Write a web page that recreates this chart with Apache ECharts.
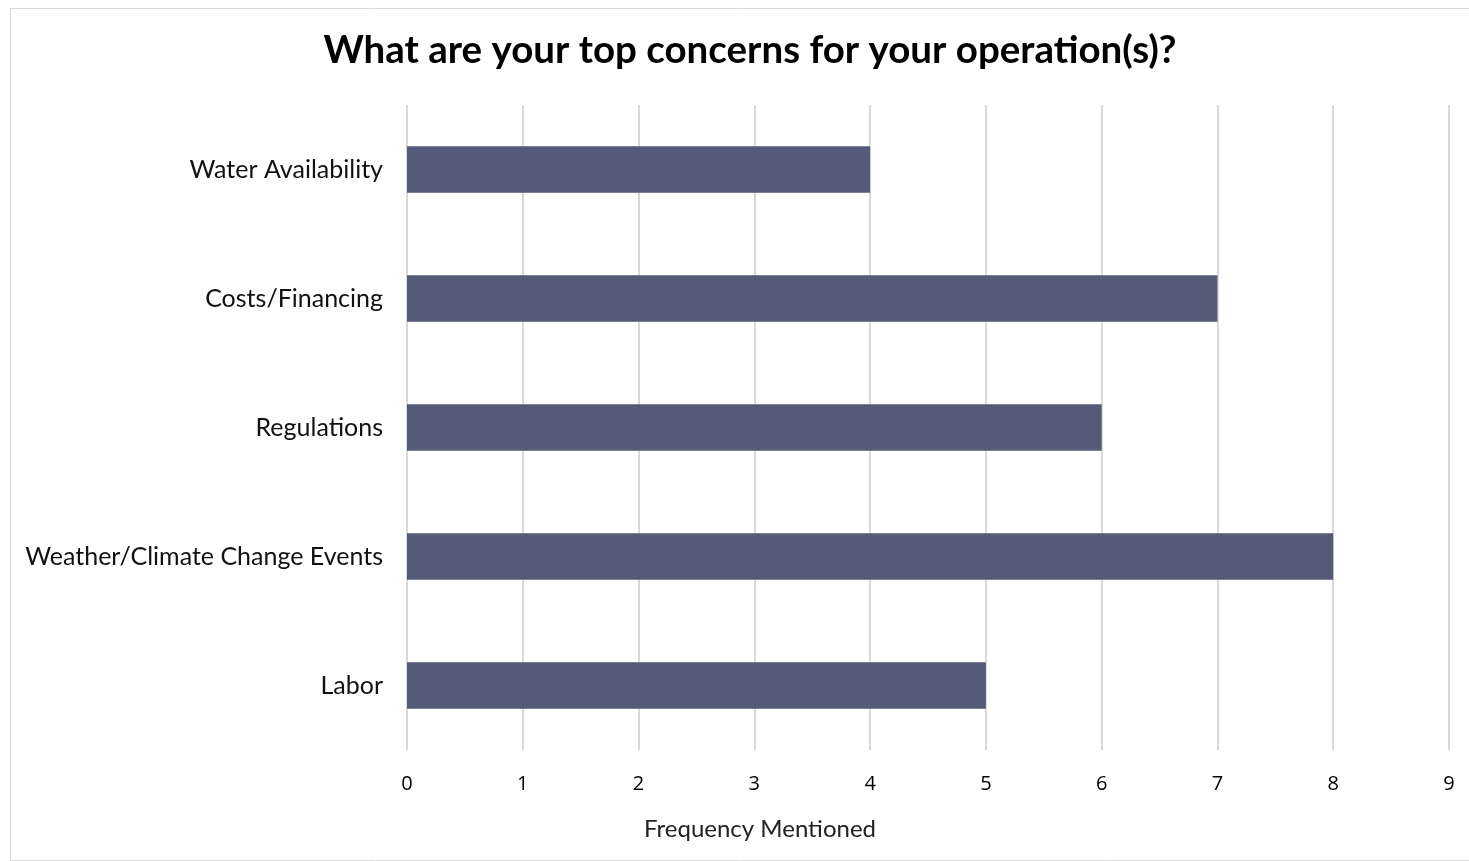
<!DOCTYPE html>
<html>
<head>
<meta charset="utf-8">
<script src="https://cdn.jsdelivr.net/npm/echarts@6/dist/echarts.min.js"></script>
<style>
html,body{margin:0;padding:0;background:#fff;}
#chart{width:1469px;height:861px;}
</style>
</head>
<body>
<div id="chart"></div>
<script>
const categories = ["Water Availability", "Costs/Financing", "Regulations", "Weather/Climate Change Events", "Labor"];
const frequency = [4, 7, 6, 8, 5];
const titleText = "What are your top concerns for your operation(s)?";
const xAxisName = "Frequency Mentioned";

const chart = echarts.init(document.getElementById('chart'), null, {renderer: 'canvas'});
chart.setOption({
  backgroundColor: '#ffffff',
  animation: false,
  graphic: [{
    type: 'rect', left: 8, top: 6, z: -1,
    shape: {width: 1460, height: 852},
    style: {fill: 'none', stroke: '#d9d9d9', lineWidth: 1}
  }, {
    type: 'text', x: 760, y: 829,
    style: {text: xAxisName, textAlign: 'center', textVerticalAlign: 'middle',
      font: '24px Lato', fill: '#222'}
  }],
  title: {
    text: titleText,
    left: 745, top: 26, textAlign: 'center',
    textStyle: {fontFamily: 'Lato', fontWeight: 'bold', fontSize: 38.5, color: '#000'}
  },
  grid: {left: 407, right: 20, top: 105, bottom: 111, containLabel: false},
  xAxis: {
    type: 'value', min: 0, max: 9, interval: 1,
    axisLine: {show: false}, axisTick: {show: false},
    axisLabel: {fontFamily: 'Open Sans', fontSize: 20, color: '#000', margin: 24},
    splitLine: {show: true, lineStyle: {color: '#d9d9d9', width: 2}}
  },
  yAxis: {
    type: 'category', data: categories, inverse: true,
    axisLine: {show: false}, axisTick: {show: false},
    axisLabel: {fontFamily: 'Lato', fontSize: 25, color: '#111', margin: 24}
  },
  series: [{
    type: 'bar', data: frequency,
    barCategoryGap: '64%',
    itemStyle: {color: '#545a78'}
  }]
});
</script>
</body>
</html>
